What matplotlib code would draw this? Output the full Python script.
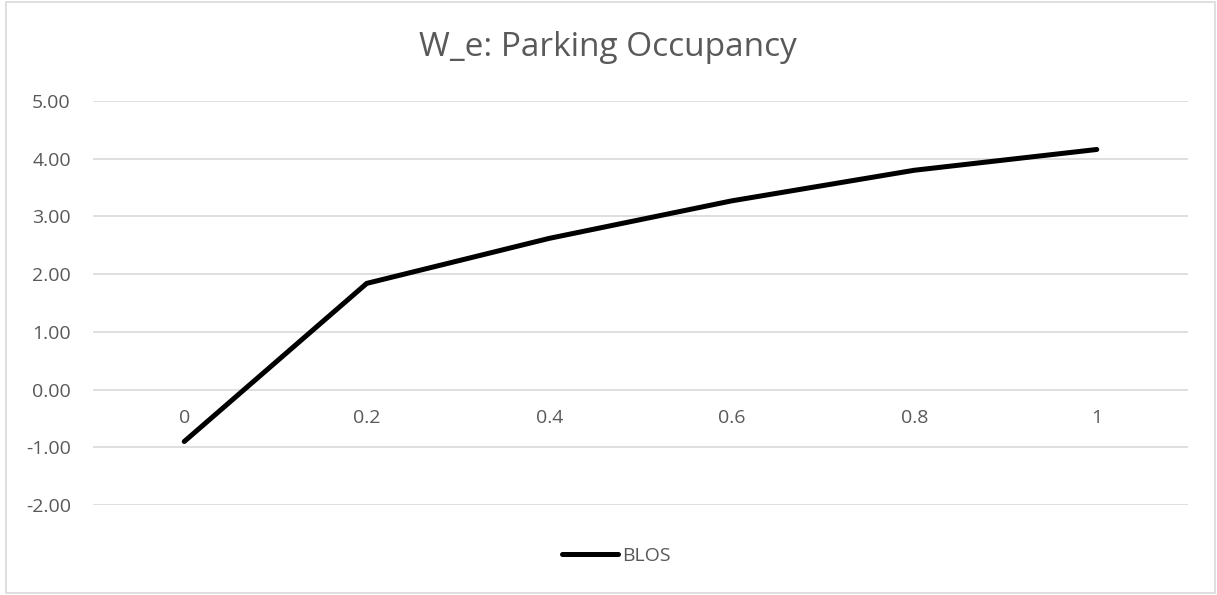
import matplotlib.pyplot as plt
from matplotlib.patches import Rectangle

categories = ["0", "0.2", "0.4", "0.6", "0.8", "1"]
blos = [-0.90, 1.84, 2.62, 3.27, 3.80, 4.16]
y_ticks = [-2, -1, 0, 1, 2, 3, 4, 5]

grey = "#595959"
plt.rcParams["font.family"] = ["Open Sans", "DejaVu Sans"]

fig = plt.figure(figsize=(12.17, 5.95), dpi=100)
ax = fig.add_axes([93 / 1217, 1 - 505 / 595, 1095 / 1217, 404 / 595])

x = list(range(len(categories)))
ax.plot(x, blos, color="black", lw=3.6, solid_capstyle="round",
        solid_joinstyle="miter", label="BLOS", zorder=3)

ax.set_xlim(-0.5, len(categories) - 0.5)
ax.set_ylim(-2, 5)
ax.set_yticks(y_ticks)
ax.set_yticklabels([f"{v:.2f}" for v in y_ticks], color=grey, fontsize=14)
ax.tick_params(axis="y", length=0, pad=16)
ax.set_xticks([])
ax.grid(axis="y", color="#d9d9d9", lw=1.2)
for s in ax.spines.values():
    s.set_visible(False)

# category labels sit below the zero line like in Excel
for xi, lab in zip(x, categories):
    ax.text(xi, -0.49, lab, ha="center", va="center",
            color=grey, fontsize=14)

fig.text(608 / 1217, 1 - 47 / 595, "W_e: Parking Occupancy", color=grey,
         fontsize=24, ha="center", va="center")

fig.legend(loc="center", bbox_to_anchor=(616 / 1217, 1 - 556 / 595),
           frameon=False, fontsize=14, labelcolor=grey, handlelength=2.9,
           handletextpad=0.2)

fig.patches.append(Rectangle((6 / 1217, 2 / 595), 1209 / 1217, 591 / 595,
                             transform=fig.transFigure, fill=False,
                             edgecolor="#d9d9d9", lw=1.2))

fig.savefig("out.png", dpi=100)
